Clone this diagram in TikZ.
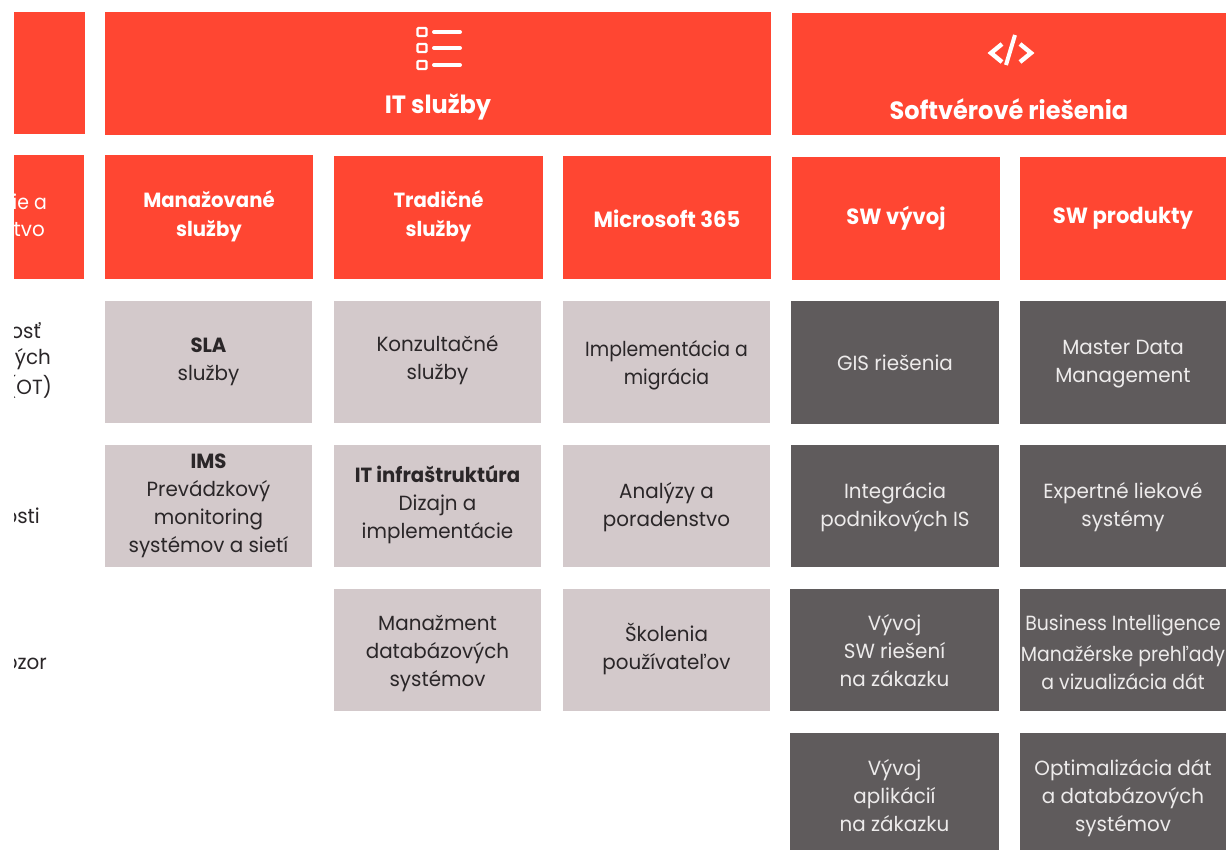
\documentclass[tikz,border=0pt]{standalone}
\usepackage{fontspec}
\setmainfont[FakeStretch=0.97,BoldFeatures={FakeStretch=0.96}]{Poppins}
\newfontfamily\narrowfam[FakeStretch=0.92]{Poppins}
\definecolor{brandred}{HTML}{FF4632}
\definecolor{lightbox}{HTML}{D3C9CB}
\definecolor{darkbox}{HTML}{5F5B5C}
\definecolor{inktext}{HTML}{2A2628}
\definecolor{palettext}{HTML}{EDEBEB}
\tikzset{
  redbox/.style={fill=brandred,draw=none},
  lightcell/.style={fill=lightbox,draw=none},
  darkcell/.style={fill=darkbox,draw=none},
  redtxt/.style={text=white,align=center,inner sep=0pt,font=\fontsize{20.5}{29.5}\selectfont\bfseries},
  bigred/.style={redtxt,font=\fontsize{25}{29.5}\selectfont\bfseries},
  midred/.style={redtxt,font=\fontsize{22}{29.5}\selectfont\bfseries},
  inktxt/.style={text=inktext,align=center,inner sep=0pt,font=\fontsize{20.5}{28}\selectfont},
  paletxt/.style={text=palettext,align=center,inner sep=0pt,font=\fontsize{20.5}{28}\selectfont},
  inknarrow/.style={inktxt,font=\fontsize{20.5}{28}\selectfont\narrowfam},
  palenarrow/.style={paletxt,font=\fontsize{20.5}{28}\selectfont\narrowfam},
  sidetxt/.style={text=inktext,align=right,anchor=east,inner sep=0pt,font=\fontsize{20.5}{28}\selectfont},
  iconline/.style={line width=4pt,white,line cap=round},
  iconbox/.style={line width=2.4pt,white,rounded corners=1pt},
  iconcode/.style={line width=4.4pt,white,line join=miter},
}
% name, box style, text style, x0, y0, x1, y1, text centre y, text
\newcommand{\cellbox}[9]{%
  \path[#2] (#4,#5) rectangle (#6,#7);
  \node[#3] (#1) at ({(#4+#6)/2},#8) {#9};
}
\begin{document}
\begin{tikzpicture}[x=1pt,y=-1pt]
\useasboundingbox (0,0) rectangle (1226,850);
\fill[white] (0,0) rectangle (1226,850);

% header row
\path[redbox] (14,12) rectangle (85,134);
\cellbox{itserv}{redbox}{bigred}{105}{12}{771}{135}{107}{IT služby}
\cellbox{swsol}{redbox}{bigred}{792}{13}{1226}{135}{109}{Softvérové riešenia}

% list icon
\foreach \yy/\nm in {32/a,48/b,65/c}{
  \draw[iconbox] (417.5,\yy-4) rectangle (426.5,\yy+4);
  \coordinate (l\nm s) at (434,\yy);
  \coordinate (l\nm e) at (460,\yy);
  \draw[iconline] (l\nm s) -- (l\nm e);
}
% code icon
\draw[iconcode] (1002,44) -- (991,53) -- (1002,62);
\draw[iconcode] (1020,44) -- (1031,53) -- (1020,62);
\draw[line width=4pt,white] (1015,35) -- (1006,65);

% second row
\path[redbox] (14,155) rectangle (84,279);
\cellbox{mng}{redbox}{redtxt}{105}{155}{313}{279}{216}{Manažované\\služby}
\cellbox{trad}{redbox}{redtxt}{334}{156}{543}{279}{216}{Tradičné\\služby}
\cellbox{ms}{redbox}{midred}{563}{156}{771}{279}{219}{Microsoft 365}
\cellbox{swv}{redbox}{midred}{792}{157}{1000}{280}{218}{SW vývoj}
\cellbox{swp}{redbox}{midred}{1020}{157}{1226}{280}{218}{SW produkty}

% cut-off labels at the left edge
\begin{scope}
\clip (14,150) rectangle (100,700);
\node[sidetxt,text=white,font=\fontsize{20.5}{28}\selectfont\narrowfam] (s00) at (47,202) {ie a};
\node[sidetxt,text=white] (s0) at (45,230) {tvo};
\node[sidetxt] (s1) at (41,331) {osť};
\node[sidetxt] (s2) at (51,359) {ných};
\node[sidetxt] (s3) at (52,387) {(OT)};
\node[sidetxt] (s4) at (40,516) {osti};
\node[sidetxt] (s5) at (47,664) {ozor};
\end{scope}

% third row
\cellbox{sla}{lightcell}{inktxt}{105}{301}{312}{423}{361.5}{\textbf{SLA}\\služby}
\cellbox{kons}{lightcell}{inktxt}{334}{301}{541}{423}{360}{Konzultačné\\služby}
\cellbox{impl}{lightcell}{inknarrow}{563}{301}{770}{423}{365.5}{Implementácia a\\migrácia}
\cellbox{gis}{darkcell}{paletxt}{791}{301}{999}{424}{363}{GIS riešenia}
\cellbox{mdm}{darkcell}{paletxt}{1020}{301}{1226}{424}{364}{Master Data\\Management}

% fourth row
\cellbox{ims}{lightcell}{inktxt}{105}{445}{312}{567}{506}{\textbf{IMS}\\Prevádzkový\\monitoring\\systémov a sietí}
\cellbox{infra}{lightcell}{inktxt}{334}{445}{541}{567}{505}{\textbf{IT infraštruktúra}\\Dizajn a\\implementácie}
\cellbox{anal}{lightcell}{inktxt}{563}{445}{770}{567}{507}{Analýzy a\\poradenstvo}
\cellbox{integ}{darkcell}{paletxt}{791}{445}{999}{567}{507}{Integrácia\\podnikových IS}
\cellbox{lieky}{darkcell}{paletxt}{1020}{445}{1226}{567}{507}{Expertné liekové\\systémy}

% fifth row
\cellbox{db}{lightcell}{inktxt}{334}{589}{541}{711}{653}{Manažment\\databázových\\systémov}
\cellbox{skol}{lightcell}{inktxt}{563}{589}{770}{711}{649}{Školenia\\používateľov}
\cellbox{swz}{darkcell}{paletxt}{790}{589}{999}{711}{651}{Vývoj\\SW riešení\\na zákazku}
\cellbox{bi}{darkcell}{palenarrow}{1020}{589}{1226}{711}{652}{Business Intelligence\\[3pt]Manažérske prehľady\\a vizualizácia dát}

% sixth row
\cellbox{app}{darkcell}{paletxt}{790}{733}{999}{850}{796}{Vývoj\\aplikácií\\na zákazku}
\cellbox{opt}{darkcell}{paletxt}{1020}{733}{1226}{850}{798}{Optimalizácia dát\\a databázových\\systémov}
\end{tikzpicture}
\end{document}
